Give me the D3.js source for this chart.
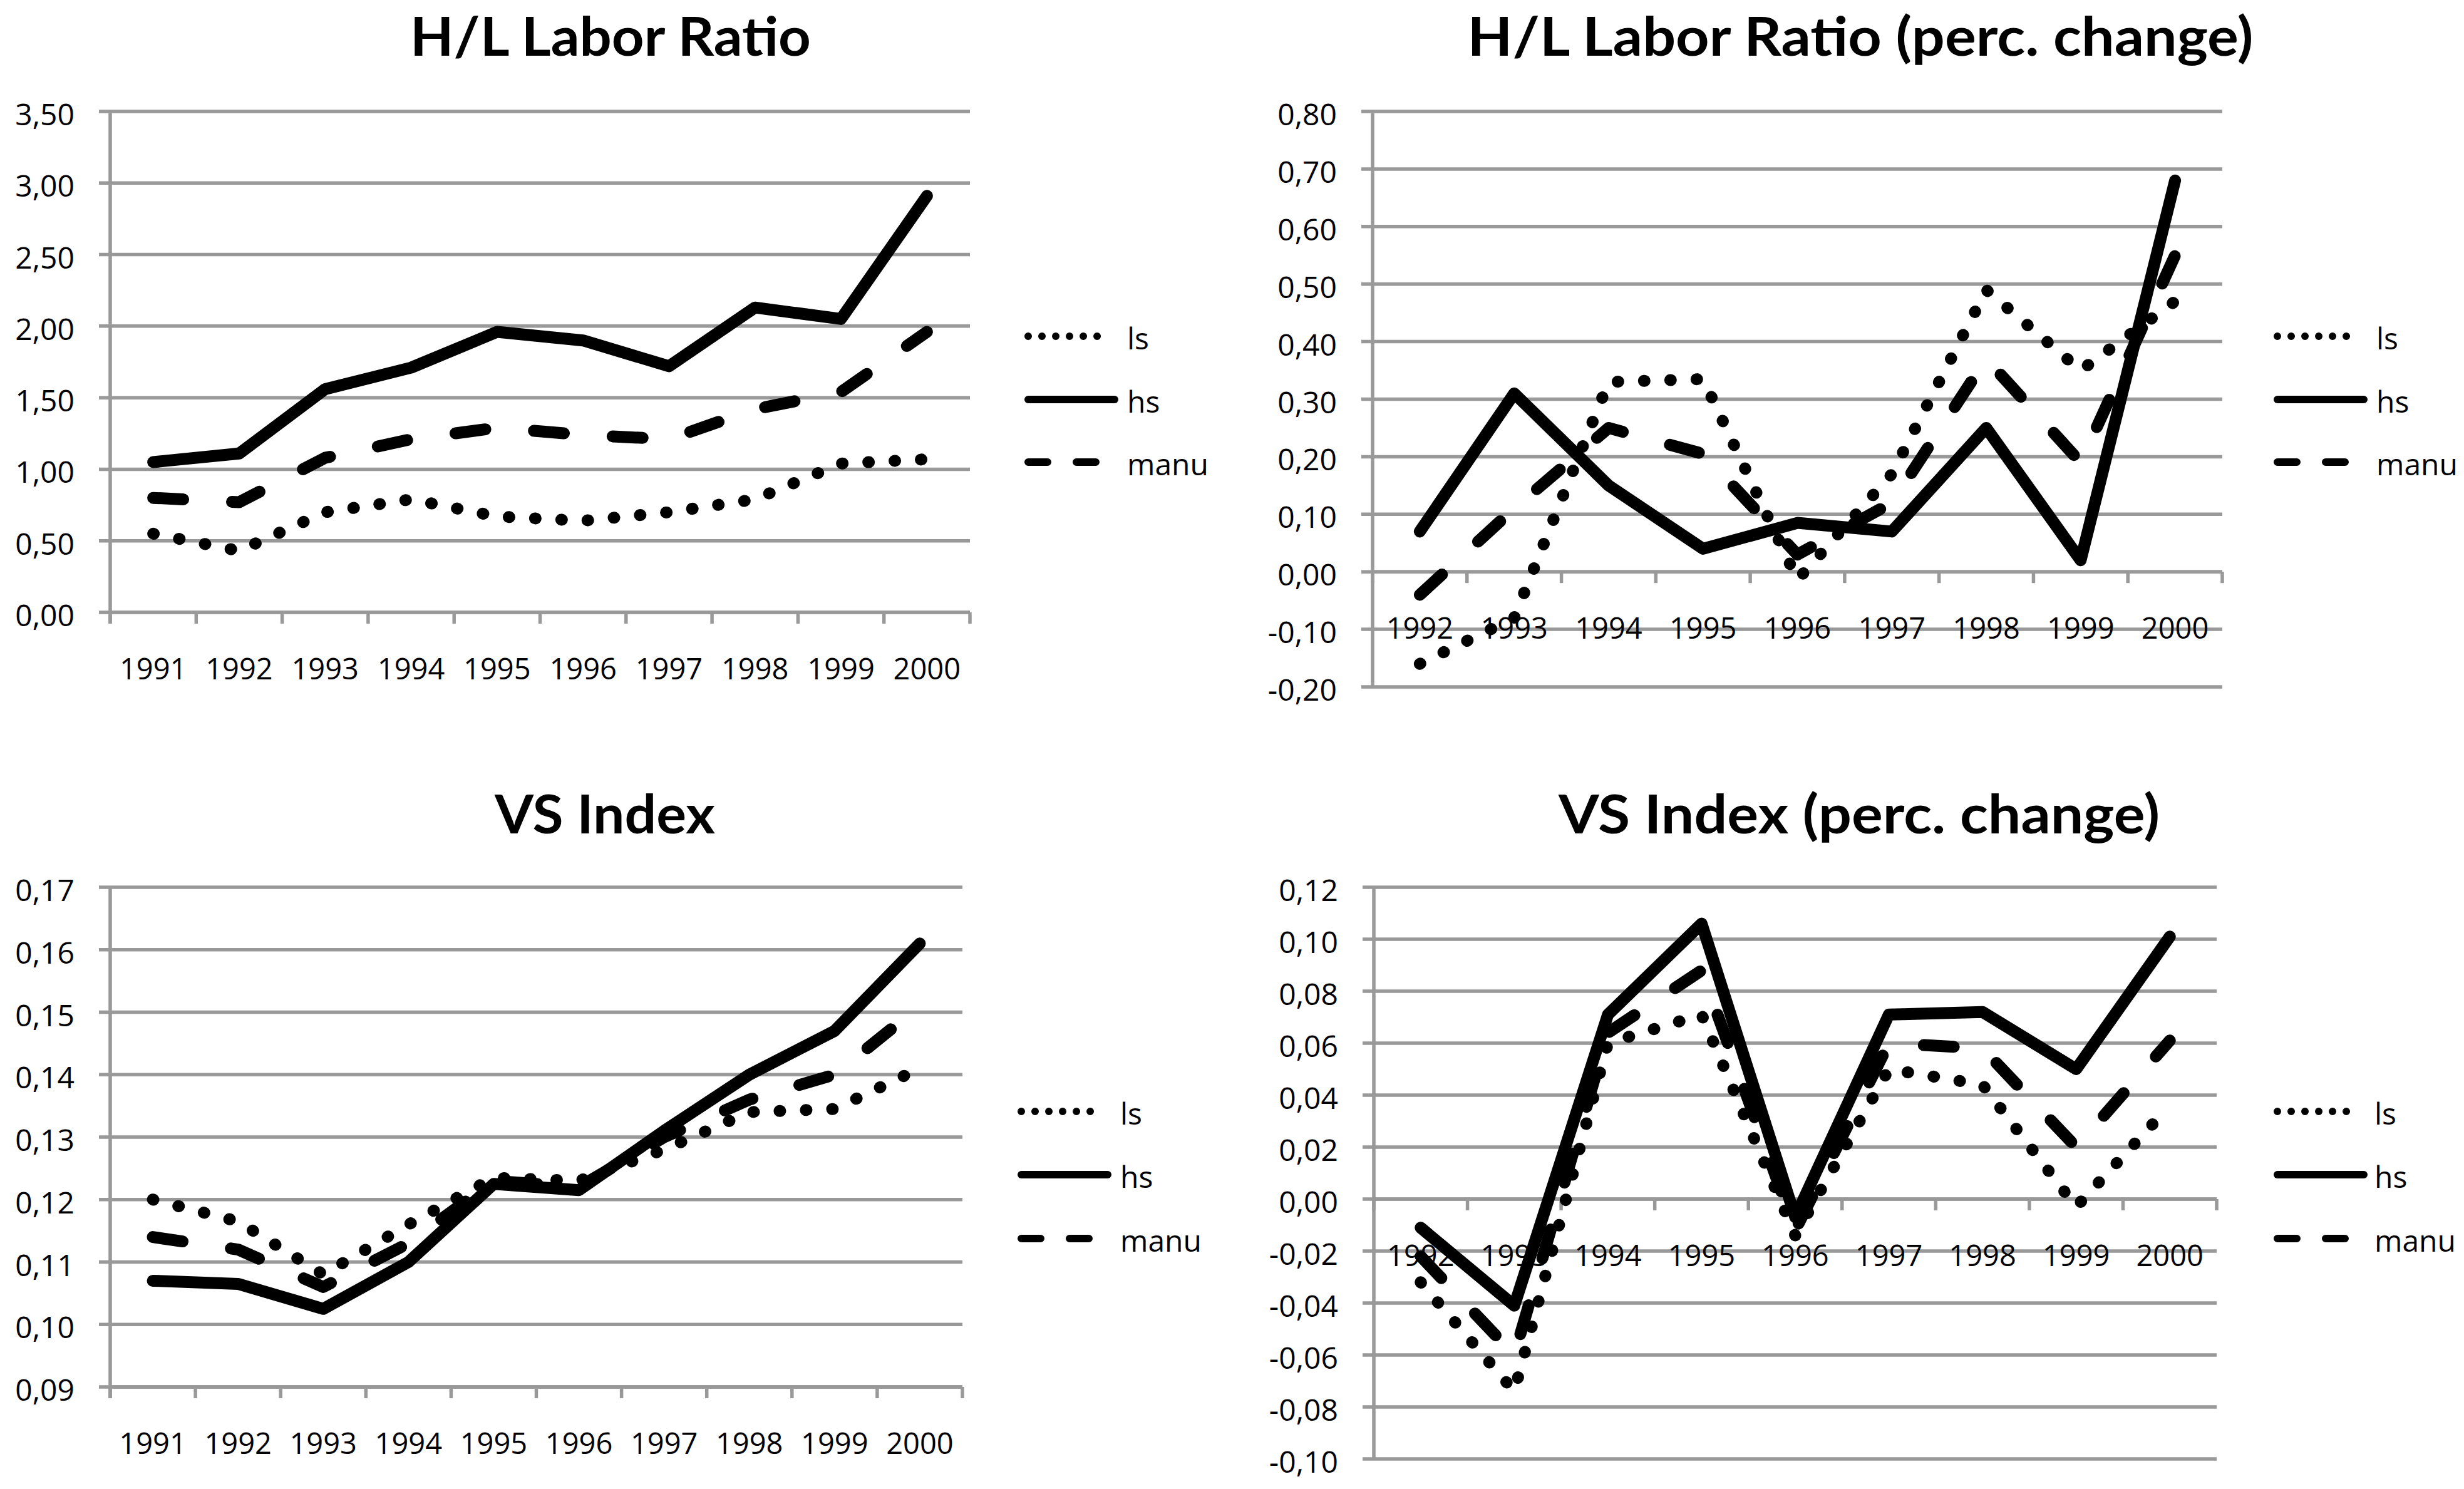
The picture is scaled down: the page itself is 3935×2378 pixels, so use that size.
<!DOCTYPE html>
<html><head><meta charset="utf-8">
<script src="https://cdn.jsdelivr.net/npm/d3@7"></script>
<style>html,body{margin:0;padding:0;background:#fff;} svg{display:block;}</style>
</head><body>
<svg id="chart" width="3935" height="2378"></svg>
<script>
// ---------------- DATA ----------------
const yearsLevel  = ["1991","1992","1993","1994","1995","1996","1997","1998","1999","2000"];
const yearsChange = ["1992","1993","1994","1995","1996","1997","1998","1999","2000"];
const seriesNames = ["ls","hs","manu"];

const hlLevel_ls   = [0.55, 0.43, 0.70, 0.79, 0.67, 0.64, 0.70, 0.79, 1.04, 1.07];
const hlLevel_hs   = [1.05, 1.11, 1.56, 1.71, 1.96, 1.90, 1.72, 2.13, 2.05, 2.91];
const hlLevel_manu = [0.80, 0.77, 1.08, 1.21, 1.29, 1.24, 1.21, 1.42, 1.54, 1.96];

const hlChange_ls   = [-0.16, -0.08, 0.33, 0.335, -0.014, 0.17, 0.49, 0.35, 0.47];
const hlChange_hs   = [0.07, 0.31, 0.15, 0.04, 0.085, 0.07, 0.25, 0.02, 0.68];
const hlChange_manu = [-0.04, 0.11, 0.25, 0.205, 0.03, 0.12, 0.37, 0.19, 0.55];

const vsLevel_ls   = [0.120, 0.1165, 0.108, 0.116, 0.1235, 0.123, 0.128, 0.134, 0.1345, 0.141];
const vsLevel_hs   = [0.107, 0.1065, 0.1025, 0.110, 0.1225, 0.1215, 0.131, 0.140, 0.147, 0.161];
const vsLevel_manu = [0.114, 0.112, 0.106, 0.113, 0.123, 0.122, 0.130, 0.136, 0.140, 0.151];

const vsChange_ls   = [-0.032, -0.074, 0.060, 0.071, -0.014, 0.050, 0.044, -0.003, 0.036];
const vsChange_hs   = [-0.011, -0.041, 0.071, 0.106, -0.007, 0.071, 0.072, 0.050, 0.101];
const vsChange_manu = [-0.022, -0.060, 0.064, 0.088, -0.012, 0.060, 0.058, 0.020, 0.061];

const ticksHlLevel  = [0, 0.5, 1.0, 1.5, 2.0, 2.5, 3.0, 3.5];
const ticksHlChange = [-0.2, -0.1, 0, 0.1, 0.2, 0.3, 0.4, 0.5, 0.6, 0.7, 0.8];
const ticksVsLevel  = [0.09, 0.10, 0.11, 0.12, 0.13, 0.14, 0.15, 0.16, 0.17];
const ticksVsChange = [-0.10, -0.08, -0.06, -0.04, -0.02, 0, 0.02, 0.04, 0.06, 0.08, 0.10, 0.12];

const titles = ["H/L Labor Ratio", "H/L Labor Ratio (perc. change)", "VS Index", "VS Index (perc. change)"];

// ---------------- DRAWING ----------------
const svg = d3.select("#chart");
const GRID = "#999999";
const FONT = "'Open Sans', 'Noto Sans', sans-serif";
const TITLE_FONT = "Lato, 'Open Sans', sans-serif";

function fmt(v){
  const a = Math.abs(v) < 1e-9 ? 0 : v;
  return (a < 0 ? "-" : "") + Math.abs(a).toFixed(2).replace(".", ",");
}

const lineStyle = {
  ls:   {dash: "1,41",  legendDash: "0.01,22", legendLen: 132},
  hs:   {dash: null,    legendDash: null,      legendLen: 138},
  manu: {dash: "48,78", legendDash: "31,46",   legendLen: 109}
};

function drawPanel(cfg){
  const g = svg.append("g");
  const x = d3.scaleBand().domain(cfg.cats).range([cfg.x0, cfg.x1]).padding(0);
  const y = d3.scaleLinear().domain(cfg.domain).range([cfg.yBot, cfg.yTop]);
  const axisY = cfg.domain[0] < 0 ? y(0) : y(cfg.domain[0]);

  g.selectAll("line.grid").data(cfg.ticks).join("line")
    .attr("class","grid")
    .attr("x1", cfg.x0 - 18).attr("x2", cfg.x1)
    .attr("y1", d => y(d)).attr("y2", d => y(d))
    .attr("stroke", GRID).attr("stroke-width", 5.5);

  g.append("line")
    .attr("x1", cfg.x0).attr("x2", cfg.x0)
    .attr("y1", y(cfg.domain[1]))
    .attr("y2", Math.max(y(cfg.domain[0]), axisY + 18))
    .attr("stroke", GRID).attr("stroke-width", 5.5);

  g.append("line")
    .attr("x1", cfg.x0).attr("x2", cfg.x1)
    .attr("y1", axisY).attr("y2", axisY)
    .attr("stroke", GRID).attr("stroke-width", 5.5);
  const bounds = cfg.cats.map(c => x(c)).concat([cfg.x1]);
  g.selectAll("line.xt").data(bounds).join("line")
    .attr("class","xt")
    .attr("x1", d => d).attr("x2", d => d)
    .attr("y1", axisY).attr("y2", axisY + 18)
    .attr("stroke", GRID).attr("stroke-width", 5.5);

  g.selectAll("text.yl").data(cfg.ticks).join("text")
    .attr("class","yl")
    .attr("x", cfg.x0 - 57).attr("y", d => y(d) + 22)
    .attr("text-anchor","end")
    .attr("font-family", FONT).attr("font-size", 48).attr("fill","#000")
    .text(d => fmt(d));

  const line = d3.line()
    .x((d,i) => x(cfg.cats[i]) + x.bandwidth()/2)
    .y(d => y(d));
  seriesNames.forEach(name => {
    const st = lineStyle[name];
    const p = g.append("path")
      .attr("d", line(cfg.series[name]))
      .attr("fill","none").attr("stroke","#000")
      .attr("stroke-width", 19)
      .attr("stroke-linecap","round").attr("stroke-linejoin","round");
    if (st.dash) p.attr("stroke-dasharray", st.dash);
  });

  g.selectAll("text.xl").data(cfg.cats).join("text")
    .attr("class","xl")
    .attr("x", d => x(d) + x.bandwidth()/2).attr("y", axisY + 107)
    .attr("text-anchor","middle")
    .attr("font-family", FONT).attr("font-size", 47).attr("fill","#000")
    .text(d => d);

  g.append("text")
    .attr("x", cfg.titleX).attr("y", cfg.titleY)
    .attr("text-anchor","middle")
    .attr("font-family", TITLE_FONT).attr("font-weight", 700).attr("font-size", 86)
    .attr("textLength", cfg.titleW).attr("lengthAdjust","spacingAndGlyphs")
    .attr("fill","#000")
    .text(cfg.title);

  seriesNames.forEach((name, i) => {
    const st = lineStyle[name];
    const ly = cfg.legendY[i];
    const p = g.append("line")
      .attr("x1", cfg.legendX + 6).attr("x2", cfg.legendX + 6 + st.legendLen)
      .attr("y1", ly).attr("y2", ly)
      .attr("stroke","#000").attr("stroke-width", 12)
      .attr("stroke-linecap","round");
    if (st.legendDash) p.attr("stroke-dasharray", st.legendDash);
    g.append("text")
      .attr("x", cfg.legendTextX).attr("y", ly + 21)
      .attr("font-family", FONT).attr("font-size", 48).attr("fill","#000")
      .text(name);
  });
}

drawPanel({
  cats: yearsLevel, domain: [0, 3.5], ticks: ticksHlLevel,
  x0: 176, x1: 1549, yTop: 178, yBot: 978,
  series: {ls: hlLevel_ls, hs: hlLevel_hs, manu: hlLevel_manu},
  title: titles[0], titleX: 975, titleY: 89, titleW: 640,
  legendX: 1636, legendTextX: 1800, legendY: [537, 638, 738]
});
drawPanel({
  cats: yearsChange, domain: [-0.2, 0.8], ticks: ticksHlChange,
  x0: 2192, x1: 3549, yTop: 178, yBot: 1097,
  series: {ls: hlChange_ls, hs: hlChange_hs, manu: hlChange_manu},
  title: titles[1], titleX: 2971, titleY: 89, titleW: 1255,
  legendX: 3631, legendTextX: 3795, legendY: [537, 638, 738]
});
drawPanel({
  cats: yearsLevel, domain: [0.09, 0.17], ticks: ticksVsLevel,
  x0: 176, x1: 1537, yTop: 1417, yBot: 2215,
  series: {ls: vsLevel_ls, hs: vsLevel_hs, manu: vsLevel_manu},
  title: titles[2], titleX: 966, titleY: 1331, titleW: 352,
  legendX: 1625, legendTextX: 1789, legendY: [1775, 1876, 1978]
});
drawPanel({
  cats: yearsChange, domain: [-0.10, 0.12], ticks: ticksVsChange,
  x0: 2194, x1: 3540, yTop: 1417, yBot: 2330,
  series: {ls: vsChange_ls, hs: vsChange_hs, manu: vsChange_manu},
  title: titles[3], titleX: 2969, titleY: 1331, titleW: 960,
  legendX: 3631, legendTextX: 3792, legendY: [1775, 1876, 1978]
});
</script>
</body></html>
